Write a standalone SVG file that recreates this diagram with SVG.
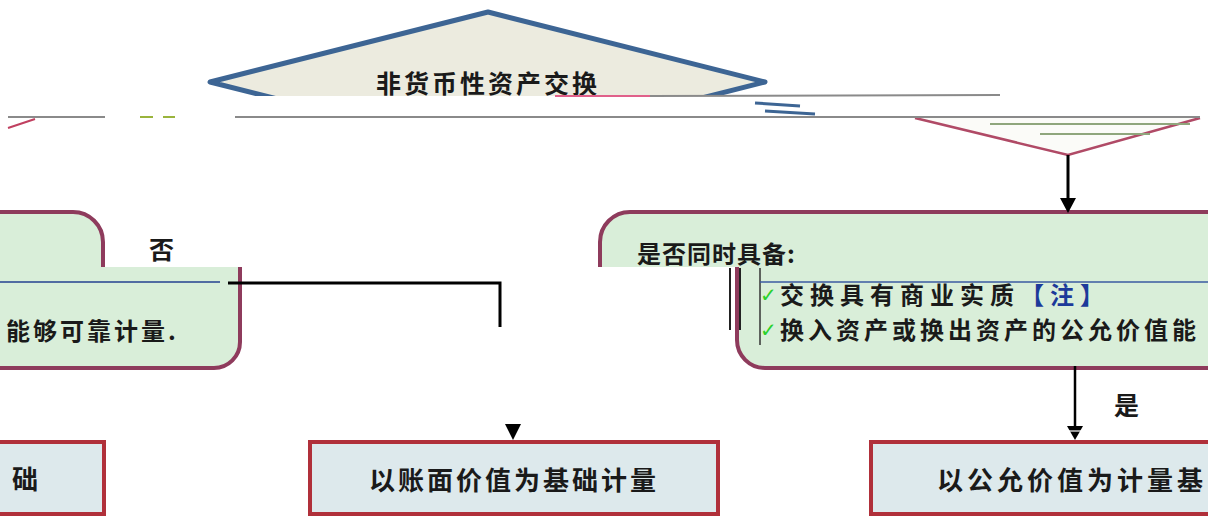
<svg xmlns="http://www.w3.org/2000/svg" width="1208" height="518" viewBox="0 0 1208 518">
<defs>
<style>
.t{font-family:"Noto Sans CJK SC","Liberation Serif",serif;font-weight:bold;fill:#1a1a1a}
.dia{fill:#ecebdf;stroke:#3d6594;stroke-width:5;stroke-linejoin:round}
.rbox{fill:#d9eed9;stroke:#8e3b5c;stroke-width:4}
.bbox{fill:#dde9ec;stroke:#b0303a;stroke-width:4}
.gl{stroke:#8a8a8a;stroke-width:2}
.con{stroke:#000;stroke-width:3;fill:none}
.chk{font-family:"DejaVu Sans",sans-serif;fill:#2bd12b;font-size:20px}
</style>
<clipPath id="cTop"><rect x="0" y="0" width="1208" height="96"/></clipPath>
<clipPath id="cUp"><rect x="0" y="0" width="1208" height="267"/></clipPath>
<clipPath id="cLow"><rect x="0" y="267" width="1208" height="120"/></clipPath>
</defs>

<g id="node-start" clip-path="url(#cTop)">
<polygon class="dia" points="210,82 488,12 765,82 488,152"/>
<text class="t" x="488" y="93" font-size="25" letter-spacing="3" text-anchor="middle">非货币性资产交换</text>
</g>

<g id="node-diamond-lower">
<polyline points="915,118 1068,155 1200,118" fill="#fbfbf8" stroke="#b04a66" stroke-width="2.5"/>
<line x1="990" y1="124" x2="1190" y2="124" stroke="#8fa67c" stroke-width="2"/>
<line x1="1040" y1="134" x2="1150" y2="134" stroke="#8fa67c" stroke-width="2"/>
</g>

<g id="artifacts">
<line class="gl" x1="8" y1="117" x2="105" y2="117"/>
<line x1="140" y1="117" x2="153" y2="117" stroke="#9ab43c" stroke-width="2"/>
<line x1="163" y1="117" x2="175" y2="117" stroke="#9ab43c" stroke-width="2"/>
<line class="gl" x1="235" y1="117" x2="1200" y2="117"/>
<line x1="555" y1="96" x2="650" y2="96" stroke="#e0608a" stroke-width="2"/>
<line x1="650" y1="96" x2="1000" y2="95" stroke="#8a8a8a" stroke-width="2"/>
<polyline points="8,128 35,119" stroke="#c04060" stroke-width="2" fill="none"/>
<line x1="755" y1="103" x2="800" y2="106" stroke="#3d6594" stroke-width="3"/>
<line x1="765" y1="111" x2="815" y2="114" stroke="#3d6594" stroke-width="3"/>
</g>

<g id="node-left-check">
<g clip-path="url(#cUp)">
<rect class="rbox" x="-200" y="212" width="303" height="200" rx="30"/>
</g>
<g clip-path="url(#cLow)">
<rect class="rbox" x="-200" y="100" width="440" height="268" rx="26"/>
</g>
<line x1="0" y1="282" x2="220" y2="282" stroke="#23408f" stroke-width="1.5"/>
<text class="t" x="6" y="340" font-size="24" letter-spacing="3">能够可靠计量.</text>
</g>

<g id="node-right-check">
<g clip-path="url(#cUp)">
<rect class="rbox" x="600" y="212" width="660" height="200" rx="30"/>
<text class="t" x="637" y="263" font-size="24" letter-spacing="1">是否同时具备:</text>
</g>
<g clip-path="url(#cLow)">
<rect class="rbox" x="737" y="100" width="520" height="268" rx="28"/>
</g>
<line x1="730" y1="268" x2="730" y2="330" stroke="#222" stroke-width="2"/>
<line x1="740" y1="268" x2="740" y2="330" stroke="#222" stroke-width="2"/>
<line x1="760" y1="268" x2="760" y2="345" stroke="#333" stroke-width="1.5"/>
<line x1="760" y1="282" x2="1208" y2="282" stroke="#3a5aa0" stroke-width="1.5"/>
<text class="chk" x="760" y="302">✓</text>
<text class="t" x="780" y="304" font-size="24" letter-spacing="6">交换具有商业实质<tspan fill="#1c3a9a">【注】</tspan></text>
<text class="chk" x="760" y="337">✓</text>
<text class="t" x="780" y="339" font-size="24" letter-spacing="4">换入资产或换出资产的公允价值能</text>
</g>

<g id="node-left-result">
<rect class="bbox" x="-50" y="442" width="154" height="72"/>
<text class="t" x="12" y="489" font-size="26">础</text>
</g>

<g id="node-book-value">
<rect class="bbox" x="310" y="442" width="408" height="72"/>
<text class="t" x="514" y="490" font-size="26" letter-spacing="3" text-anchor="middle">以账面价值为基础计量</text>
</g>

<g id="node-fair-value">
<rect class="bbox" x="871" y="442" width="400" height="72"/>
<text class="t" x="937" y="490" font-size="26" letter-spacing="4">以公允价值为计量基</text>
</g>

<g id="connectors">
<line class="con" x1="1068" y1="155" x2="1068" y2="200"/>
<polygon points="1060,198 1076,198 1068,213" fill="#000"/>
<polyline class="con" points="228,283 500,283 500,327"/>
<polygon points="505,424 521,424 513,440" fill="#000"/>
<line x1="1075" y1="366" x2="1075" y2="428" stroke="#000" stroke-width="2.5"/>
<polygon points="1067,426 1083,426 1075,440" fill="#000"/>
<line x1="1069" y1="431" x2="1081" y2="431" stroke="#fff" stroke-width="1.2"/>
<text class="t" x="149" y="259" font-size="25">否</text>
<text class="t" x="1114" y="415" font-size="25">是</text>
</g>
</svg>
